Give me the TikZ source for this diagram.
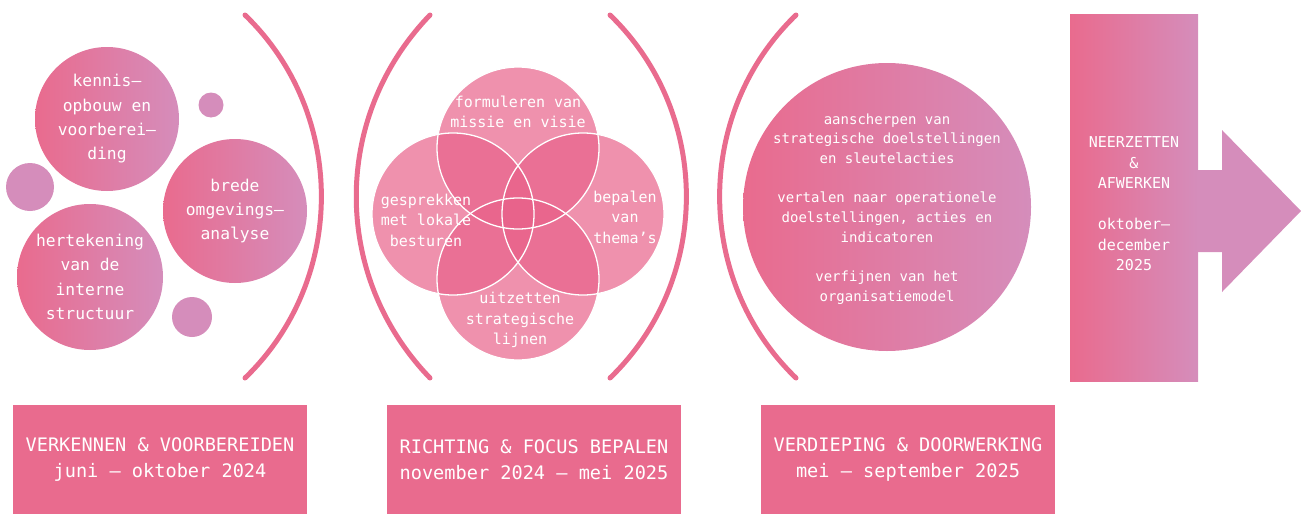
\documentclass[tikz,border=0pt]{standalone}
\usepackage{fontspec}
\setmonofont{DejaVu Sans Mono}
\definecolor{roze}{RGB}{233,107,142}
\definecolor{lila}{RGB}{213,141,187}
\definecolor{vennroze}{RGB}{232,98,138}
\begin{document}
\begin{tikzpicture}[x=1pt,y=-1pt,font=\ttfamily,line join=round,line cap=round,
	bol/.style={circle,inner sep=0pt,left color=roze,right color=lila,text=white,align=center,font=\ttfamily\fontsize{16.3}{24.3}\selectfont},
	stip/.style={circle,inner sep=0pt,fill=lila},
	haak/.style={draw=roze,line width=5pt},
	venn/.style={circle,inner sep=0pt,minimum size=162pt,fill=vennroze,fill opacity=.7},
	venntekst/.style={text=white,align=center,font=\ttfamily\fontsize{15}{20.5}\selectfont},
	fase/.style={fill=roze,text=white,align=center,inner sep=0pt,minimum width=294pt,minimum height=109pt,font=\ttfamily\fontsize{18.6}{26}\selectfont}]
	\useasboundingbox (0,0) rectangle (1301,514);
	% fase 1: verkennen
	\node[bol,minimum size=144pt] (kennis) at (107,119) {kennis–\\opbouw en\\voorberei–\\ding};
	\node[bol,minimum size=144pt] (brede) at (235,211) {brede\\omgevings–\\analyse};
	\node[bol,minimum size=146pt] (herteken) at (90,277) {hertekening\\van de\\interne\\structuur};
	\node[stip,minimum size=25pt] (stip1) at (211,105) {};
	\node[stip,minimum size=48pt] (stip2) at (30,187) {};
	\node[stip,minimum size=40pt] (stip3) at (192,317) {};
	% haakjes
	\coordinate (h1a) at (245,15);  \coordinate (h1b) at (245,378);
	\coordinate (h2a) at (430,15);  \coordinate (h2b) at (430,378);
	\coordinate (h3a) at (610,15);  \coordinate (h3b) at (610,378);
	\coordinate (h4a) at (796,15);  \coordinate (h4b) at (796,378);
	\draw[haak] (h1a) to[bend left=46] (h1b);
	\draw[haak] (h2a) to[bend right=44] (h2b);
	\draw[haak] (h3a) to[bend left=46] (h3b);
	\draw[haak] (h4a) to[bend right=46] (h4b);
	% fase 2: venn
	\node[venn] (vboven) at (518,148) {};
	\node[venn] (vlinks) at (453,214) {};
	\node[venn] (vrechts) at (583,214) {};
	\node[venn] (vonder) at (518,279) {};
	\foreach \v in {vboven,vlinks,vrechts,vonder}
		\draw[white,line width=1.3pt] (\v.center) circle[radius=81pt];
	\node[venntekst] (tboven) at (518,112) {formuleren van\\missie en visie};
	\node[venntekst] (tlinks) at (426,220) {gesprekken\\met lokale\\besturen};
	\node[venntekst] (trechts) at (625,217) {bepalen\\van\\thema’s};
	\node[venntekst] (tonder) at (520,320) {uitzetten\\strategische\\lijnen};
	% fase 3
	\node[bol,minimum size=288pt] (verdiep) at (887,207) {};
	\node[text=white,align=center,font=\ttfamily\fontsize{14}{19.7}\selectfont] (verdieptekst) at (887,209)
		{aanscherpen van\\strategische doelstellingen\\en sleutelacties\\[19.7pt]vertalen naar operationele\\doelstellingen, acties en\\indicatoren\\[19.7pt]verfijnen van het\\organisatiemodel};
	% fase 4: pijl
	\fill[lila] (1190,170) -- (1222,170) -- (1222,130) -- (1301,211) -- (1222,292) -- (1222,252) -- (1190,252) -- cycle;
	\node[rectangle,inner sep=0pt,minimum width=128pt,minimum height=367pt,left color=roze,right color=lila] (slot) at (1134,197.5) {};
	\node[text=white,align=center,font=\ttfamily\fontsize{15}{20.5}\selectfont] (afwerk) at (1134,204)
		{NEERZETTEN\\\&\\AFWERKEN\\[20.5pt]oktober–\\december\\2025};
	% fasen onderaan
	\node[fase] (fase1) at (160,459.5) {VERKENNEN \& VOORBEREIDEN\\juni – oktober 2024};
	\node[fase] (fase2) at (534,459.5) {RICHTING \& FOCUS BEPALEN\\november 2024 – mei 2025};
	\node[fase] (fase3) at (908,459.5) {VERDIEPING \& DOORWERKING\\mei – september 2025};
\end{tikzpicture}
\end{document}
